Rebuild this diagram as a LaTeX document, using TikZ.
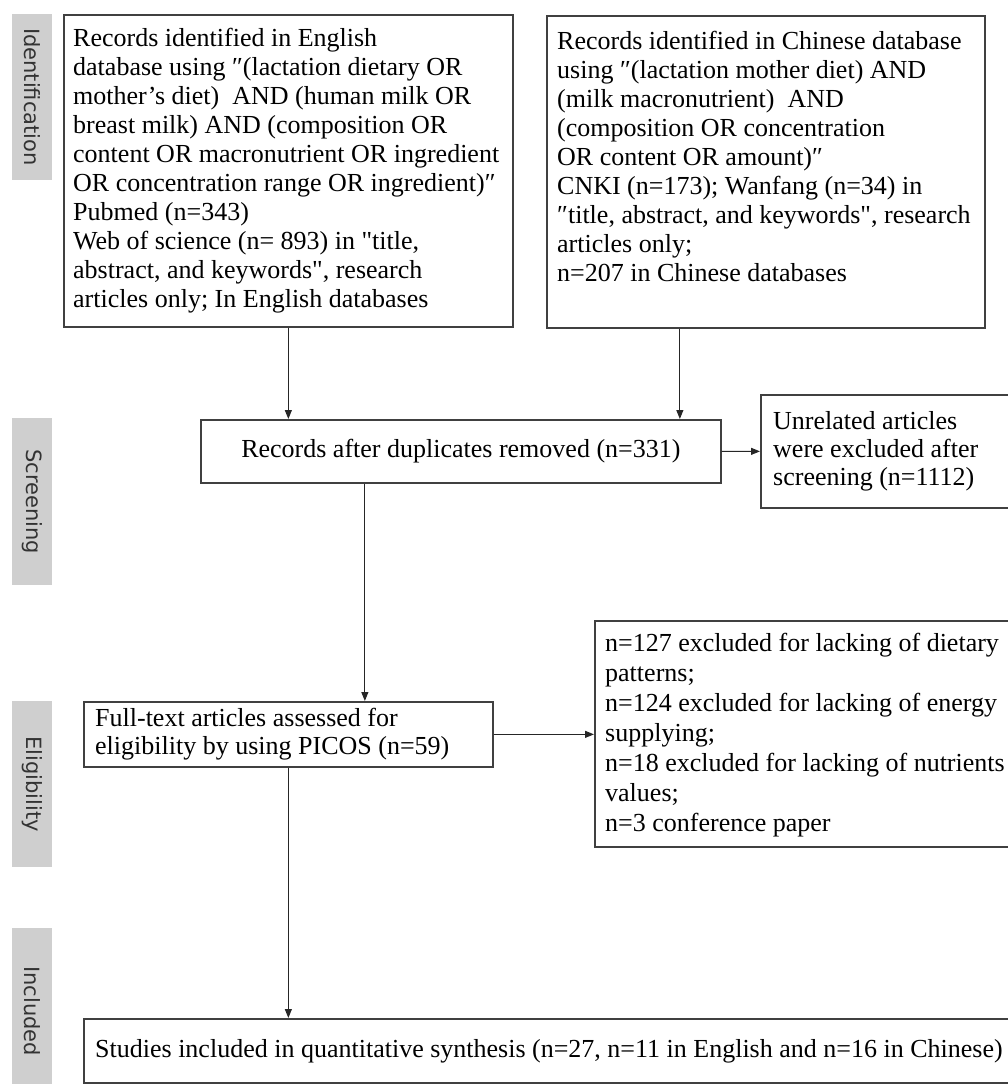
\documentclass[tikz,border=0pt]{standalone}
\usepackage{fontspec}
\setmainfont{Liberation Serif}[Ligatures=TeXOff]
\newfontfamily\stagefont{DejaVu Sans}
\usetikzlibrary{arrows.meta}
\tikzset{
  box/.style={draw=black!75, line width=1.7bp, anchor=north west,
    inner sep=0pt},
  boxtext/.style={anchor=west, inner sep=0pt, align=left,
    font=\fontsize{26bp}{29bp}\selectfont},
  stage/.style={fill=black!19, rotate=-90, inner sep=0pt,
    minimum height=40bp, text=black!80,
    font=\stagefont\fontsize{21bp}{24bp}\selectfont},
  arr/.style={line width=1.1bp, draw=black!85,
    -{Triangle[length=9bp,width=7bp]}}
}
\begin{document}
\begin{tikzpicture}[x=1bp,y=-1bp]
  \clip (0,0) rectangle (1008,1084);
  % stage bars
  \node[stage, minimum width=166bp] (idbar) at (32,97) {Identification};
  \node[stage, minimum width=167bp] (scbar) at (32,501.5) {Screening};
  \node[stage, minimum width=166bp] (elbar) at (32,784) {Eligibility};
  \node[stage, minimum width=166bp] (inbar) at (32,1011) {Included};
  % boxes
  \node[box, minimum width=449bp, minimum height=312bp] (eng) at (63,14) {};
  \node[box, minimum width=438bp, minimum height=312bp] (chn) at (546,15) {};
  \node[box, minimum width=520bp, minimum height=63bp] (rec) at (200,419) {};
  \node[box, minimum width=270bp, minimum height=113bp] (unrel) at (760,394) {};
  \node[box, minimum width=409bp, minimum height=65bp] (ft) at (83,701) {};
  \node[box, minimum width=436bp, minimum height=226bp] (excl) at (594,620) {};
  \node[box, minimum width=960bp, minimum height=64bp] (st) at (83,1018) {};
  % texts
  \node[boxtext] (engtext) at ([xshift=10bp]eng.west)
    {Records identified in English\\
     database using ″(lactation dietary OR\\
     mother’s diet)\ \ AND (human milk OR\\
     breast milk) AND (composition OR\\
     content OR macronutrient OR ingredient\\
     OR concentration range OR ingredient)″\\
     Pubmed (n=343)\\
     Web of science (n= 893) in "title,\\
     abstract, and keywords", research\\
     articles only; In English databases};
  \node[boxtext] (chntext) at ([xshift=11bp,yshift=15bp]chn.west)
    {Records identified in Chinese database\\
     using ″(lactation mother diet) AND\\
     (milk macronutrient)\ \ AND\\
     (composition OR concentration\\
     OR content OR amount)″\\
     CNKI (n=173); Wanfang (n=34) in\\
     ″title, abstract, and keywords", research\\
     articles only;\\
     n=207 in Chinese databases};
  \node[boxtext, anchor=center] (rectext) at (rec.center)
    {Records after duplicates removed (n=331)};
  \node[boxtext, font=\fontsize{26bp}{28bp}\selectfont] (unreltext)
    at ([xshift=13bp]unrel.west)
    {Unrelated articles\\
     were excluded after\\
     screening (n=1112)};
  \node[boxtext, font=\fontsize{26bp}{28bp}\selectfont] (fttext)
    at ([xshift=12bp]ft.west)
    {Full-text articles assessed for\\
     eligibility by using PICOS (n=59)};
  \node[boxtext, font=\fontsize{26bp}{30bp}\selectfont] (excltext)
    at ([xshift=11bp,yshift=-1bp]excl.west)
    {n=127 excluded for lacking of dietary\\
     patterns;\\
     n=124 excluded for lacking of energy\\
     supplying;\\
     n=18 excluded for lacking of nutrients\\
     values;\\
     n=3 conference paper};
  \node[boxtext] (sttext) at ([xshift=12bp]st.west)
    {Studies included in quantitative synthesis (n=27, n=11 in English and n=16 in Chinese)};
  % connectors
  \draw[arr] (eng.south) -- (eng.south |- rec.north);
  \draw[arr] ([xshift=-86bp]chn.south) -- ([xshift=-86bp]chn.south |- rec.north);
  \draw[arr] (rec.east) -- (unrel.west);
  \draw[arr] ([xshift=-96bp]rec.south) -- ([xshift=-96bp]rec.south |- ft.north);
  \draw[arr] (ft.east) -- (ft.east -| excl.west);
  \draw[arr] (ft.south) -- (ft.south |- st.north);
\end{tikzpicture}
\end{document}
